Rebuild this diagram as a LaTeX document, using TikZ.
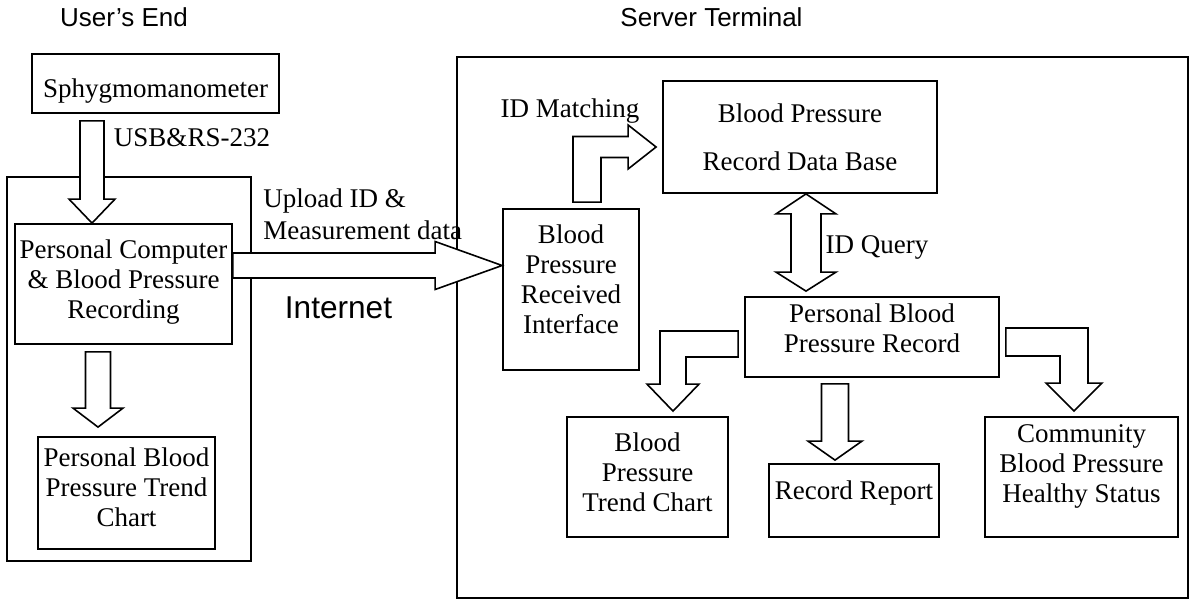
\documentclass[tikz,border=0pt]{standalone}
\usepackage{fontspec}
\setmainfont{Liberation Serif}
\newfontfamily\headfont{Liberation Sans}
\usetikzlibrary{calc}

\newcommand{\lift}[1]{\rule[-#1]{0pt}{0pt}}
\newcommand{\blockdown}[5]{%
  \draw[blockline] ($(#1)+(-#3,0)$) -- ($(#2)+(-#3,-#5)$) -- ($(#2)+(-#4,-#5)$) -- (#2)
    -- ($(#2)+(#4,-#5)$) -- ($(#2)+(#3,-#5)$) -- ($(#1)+(#3,0)$) -- cycle;}

\tikzset{
  box/.style={draw, line width=0.9pt, inner sep=0pt, align=center, font=\fontsize{13.5}{15}\selectfont},
  frame/.style={draw, line width=1pt, inner sep=0pt},
  blockline/.style={draw, fill=white, line width=0.8pt, line join=miter},
  tag/.style={inner sep=0pt, font=\fontsize{13.5}{16}\selectfont},
  headtag/.style={inner sep=0pt, font=\headfont\fontsize{13}{15}\selectfont},
}

\begin{document}
\begin{tikzpicture}[x=0.5pt,y=-0.5pt]
      \useasboundingbox (0,0) rectangle (1190,600);
      % user's end
      \node[frame, minimum width=122pt, minimum height=192pt] (userbox) at (129,369) {};
      \node[box, minimum width=123.5pt, minimum height=29.5pt] (sph) at (155.5,83.5) {\rule{0pt}{16.45pt}Sphygmomanometer};
      \node[box, minimum width=108.5pt, minimum height=60pt] (pc) at (123.5,284) {Personal Computer\\ \& Blood Pressure\\ Recording\lift{5.2pt}};
      \node[box, minimum width=88.5pt, minimum height=56pt] (ptrend) at (126.5,493) {Personal Blood\\ Pressure Trend\\ Chart\lift{6pt}};
      % server terminal
      \node[frame, minimum width=365.5pt, minimum height=270.5pt] (serverbox) at (822.5,327.5) {};
      \node[box, minimum width=68pt, minimum height=80.5pt] (recv) at (571,289.5) {Blood\\ Pressure\\ Received\\ Interface\lift{10.7pt}};
      \node[box, minimum width=137pt, minimum height=56pt] (db) at (800,137) {Blood Pressure\\[9pt] Record Data Base};
      \node[box, minimum width=127pt, minimum height=40pt] (prec) at (872,337) {Personal Blood\\ Pressure Record\lift{8.5pt}};
      \node[box, minimum width=80.5pt, minimum height=60pt] (strend) at (647.5,477) {Blood\\ Pressure\\ Trend Chart\lift{5.3pt}};
      \node[box, minimum width=85pt, minimum height=36.5pt] (report) at (854,500.5) {Record Report\lift{10.7pt}};
      \node[box, minimum width=96.5pt, minimum height=60pt] (comm) at (1081.5,477) {Community\\ Blood Pressure\\ Healthy Status\lift{13.2pt}};

      % block arrows
      \coordinate (usbtop) at ($(92,0 |- sph.south)+(0,7)$);
      \coordinate (usbtip) at (92,0 |- pc.north);
      \blockdown{usbtop}{usbtip}{12}{23}{24}
      \coordinate (pttop) at ($(98,0 |- pc.south)+(0,7)$);
      \coordinate (pttip) at ($(98,0 |- ptrend.north)+(0,-9)$);
      \blockdown{pttop}{pttip}{12.5}{25}{19}
      \coordinate (upstart) at (pc.east |- 0,265.5);
      \coordinate (uptip) at (recv.west |- 0,265.5);
      \draw[blockline] ($(upstart)+(0,-12.5)$) -- ($(uptip)+(-67,-12.5)$) -- ($(uptip)+(-67,-24)$) -- (uptip)
        -- ($(uptip)+(-67,24)$) -- ($(uptip)+(-67,12.5)$) -- ($(upstart)+(0,12.5)$) -- cycle;
      \coordinate (mstart) at ($(587,0 |- recv.north)+(0,-6)$);
      \coordinate (mtip) at ($(db.west |- 0,147)+(-6,0)$);
      \draw[blockline] ($(mstart)+(-14,0)$) -- ($(mstart |- mtip)+(-14,-10.5)$) -- ($(mtip)+(-28,-10.5)$) -- ($(mtip)+(-28,-22)$) -- (mtip)
        -- ($(mtip)+(-28,22)$) -- ($(mtip)+(-28,10.5)$) -- ($(mstart |- mtip)+(14,10.5)$) -- ($(mstart)+(14,0)$) -- cycle;
      \coordinate (qtop) at (806,0 |- db.south);
      \coordinate (qbot) at ($(806,0 |- prec.north)+(0,-5)$);
      \draw[blockline] (qtop) -- ++(30,20) -- ++(-15,0) -- ($(qbot)+(15,-19)$) -- ++(15,0) -- (qbot)
        -- ++(-30,-19) -- ++(15,0) -- ($(qtop)+(-15,20)$) -- ++(-15,0) -- cycle;
      \coordinate (lstart) at ($(prec.west |- 0,344)+(-6,0)$);
      \coordinate (ltip) at ($(673,0 |- strend.north)+(0,-5)$);
      \draw[blockline] ($(lstart)+(0,-13)$) -- ($(ltip |- lstart)+(-13,-13)$) -- ($(ltip)+(-13,-27)$) -- ($(ltip)+(-26,-27)$) -- (ltip)
        -- ($(ltip)+(26,-27)$) -- ($(ltip)+(13,-27)$) -- ($(ltip |- lstart)+(13,13)$) -- ($(lstart)+(0,13)$) -- cycle;
      \coordinate (rrtop) at ($(835,0 |- prec.south)+(0,6)$);
      \coordinate (rrtip) at ($(835,0 |- report.north)+(0,-3)$);
      \blockdown{rrtop}{rrtip}{13.5}{27}{19}
      \coordinate (cstart) at ($(prec.east |- 0,342)+(6,0)$);
      \coordinate (ctip) at ($(1074,0 |- comm.north)+(0,-5)$);
      \draw[blockline] ($(cstart)+(0,-14)$) -- ($(ctip |- cstart)+(14,-14)$) -- ($(ctip)+(14,-28)$) -- ($(ctip)+(28,-28)$) -- (ctip)
        -- ($(ctip)+(-28,-28)$) -- ($(ctip)+(-14,-28)$) -- ($(ctip |- cstart)+(-14,14)$) -- ($(cstart)+(0,14)$) -- cycle;

      % labels
      \node[headtag] (userlbl) at (124,17.7) {User’s End};
      \node[headtag] (serverlbl) at (711.5,17.7) {Server Terminal};
      \node[tag] (usblbl) at (192,137.7) {USB\&RS-232};
      \node[tag, align=left, anchor=west] (uplbl) at (263,213.8) {Upload ID \&\\ Measurement data};
      \node[inner sep=0pt, font=\headfont\fontsize{15.8}{18}\selectfont] (netlbl) at (338.5,307.3) {Internet};
      \node[tag] (matchlbl) at (570,111) {ID Matching};
      \node[tag] (querylbl) at (877,247) {ID Query};
    \end{tikzpicture}
\end{document}
